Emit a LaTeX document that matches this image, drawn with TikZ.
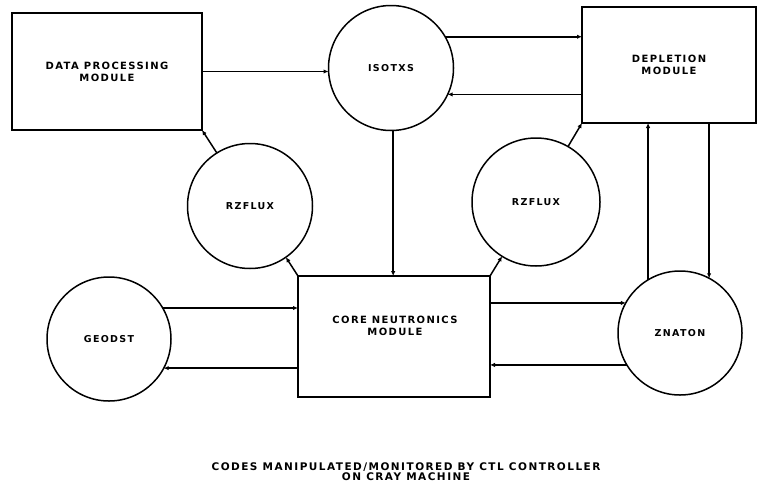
\documentclass[tikz,border=0pt]{standalone}
\usepackage{fontspec}
\setmainfont{DejaVu Sans}
\usetikzlibrary{arrows.meta}
\begin{document}
\begin{tikzpicture}[x=1pt, y=-1pt,
    every node/.style={font=\fontsize{10}{12}\selectfont\bfseries\addfontfeature{LetterSpace=14}, align=center},
    module/.style={rectangle, draw, line width=1.5pt, inner sep=0pt, outer sep=0pt},
    code/.style={circle, draw, line width=1.5pt, inner sep=0pt, outer sep=0pt, minimum size=125pt,
        font=\fontsize{9.5}{12}\selectfont\bfseries\addfontfeature{LetterSpace=14}},
    link/.style={-{Latex[length=5pt, width=4.5pt]}, line width=1.5pt}]
    \useasboundingbox (0,0) rectangle (760,485);
    \node[module, minimum width=190pt, minimum height=117pt] (dpm) at (107,71.5) {DATA PROCESSING\\MODULE};
    \node[module, minimum width=174pt, minimum height=116pt] (depl) at (669,65) {DEPLETION\\MODULE};
    \node[module, minimum width=192pt, minimum height=121pt] (core) at (394,336.5) {};
    \node (corelabel) at (395,326) {CORE NEUTRONICS\\MODULE};
    \node[code] (isotxs) at (391,68) {ISOTXS};
    \node[code] (rzl) at (250,206) {RZFLUX};
    \node[code, minimum size=128pt] (rzr) at (536,202) {RZFLUX};
    \node[code, minimum size=124pt] (geodst) at (109,339) {GEODST};
    \node[code, minimum size=124pt] (znaton) at (680,333) {ZNATON};
    \draw[link] (dpm.east) -- (isotxs.west |- dpm.east);
    \draw[link] (isotxs.30) -- (isotxs.30 -| depl.west);
    \draw[link] (isotxs.-25 -| depl.west) -- (isotxs.-25);
    \draw[link] (isotxs.-88) -- (isotxs.-88 |- core.north);
    \draw[link] (rzl.122) -- (dpm.south east);
    \draw[link] (core.north west) -- (rzl.-55);
    \draw[link] (rzr.60) -- (depl.south west);
    \draw[link] (core.north east) -- (rzr.-122);
    \draw[link] (geodst.30) -- (geodst.30 -| core.west);
    \draw[link] (geodst.-28 -| core.west) -- (geodst.-28);
    \draw[link] (znaton.151 -| core.east) -- (znaton.151);
    \draw[link] (znaton.211) -- (znaton.211 -| core.east);
    \draw[link] (znaton.121) -- (znaton.121 |- depl.south);
    \draw[link] (znaton.62 |- depl.south) -- (znaton.62);
    \node[font=\fontsize{10.5}{10}\selectfont\bfseries\addfontfeature{LetterSpace=14}] (caption) at (406,472) {CODES MANIPULATED/MONITORED BY CTL CONTROLLER\\ON CRAY MACHINE};
\end{tikzpicture}
\end{document}
